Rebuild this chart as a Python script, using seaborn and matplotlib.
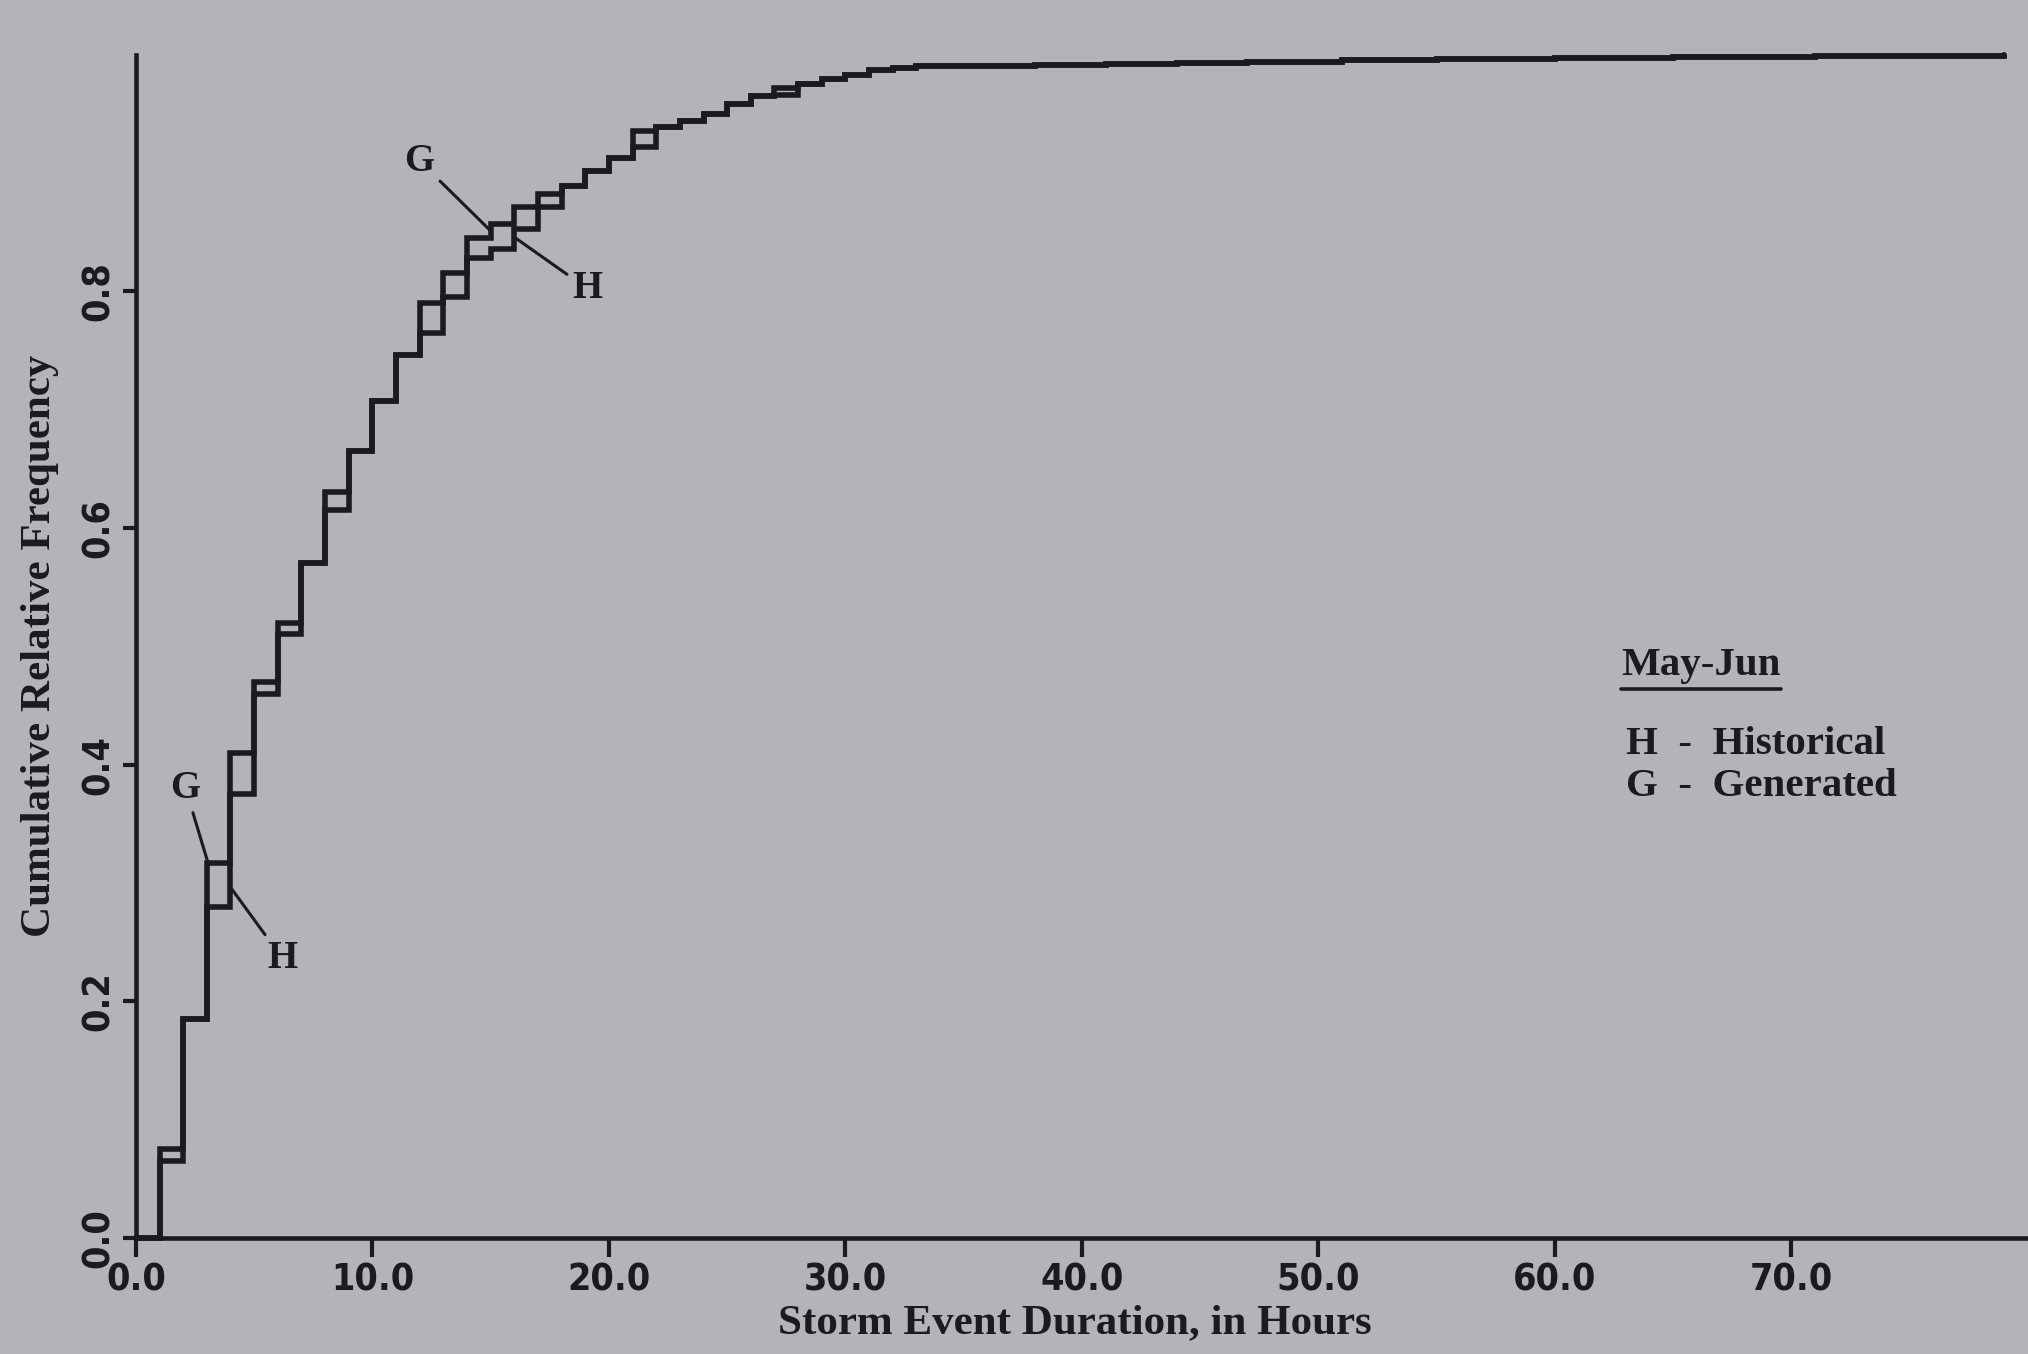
import matplotlib
matplotlib.use("Agg")
import matplotlib.pyplot as plt
from matplotlib.lines import Line2D
import seaborn as sns
import pandas as pd

# Storm event duration (hours) at which each cumulative step begins
hours = [0, 1, 2, 3, 4, 5, 6, 7, 8, 9, 10, 11, 12, 13, 14, 15, 16, 17, 18, 19,
         20, 21, 22, 23, 24, 25, 26, 27, 28, 29, 30, 31, 32, 33,
         35, 38, 41, 44, 47, 51, 55, 60, 65, 71, 79]

# Cumulative relative frequency, generated storms
generated = [0.0, 0.075, 0.185, 0.317, 0.375, 0.470, 0.520, 0.570, 0.630, 0.665,
             0.707, 0.746, 0.790, 0.815, 0.845, 0.857, 0.871, 0.882, 0.889, 0.902,
             0.913, 0.935, 0.939, 0.944, 0.950, 0.958, 0.965, 0.972, 0.975, 0.979,
             0.983, 0.987, 0.989, 0.990,
             0.990, 0.991, 0.992, 0.993, 0.994, 0.995, 0.996, 0.997, 0.998, 0.999,
             1.000]

# Cumulative relative frequency, historical storms
historical = [0.0, 0.065, 0.185, 0.280, 0.410, 0.460, 0.510, 0.570, 0.615, 0.665,
              0.707, 0.746, 0.765, 0.795, 0.828, 0.836, 0.853, 0.871, 0.889, 0.902,
              0.913, 0.922, 0.939, 0.944, 0.950, 0.958, 0.965, 0.966, 0.975, 0.979,
              0.983, 0.987, 0.989, 0.990,
              0.990, 0.991, 0.992, 0.993, 0.994, 0.995, 0.996, 0.997, 0.998, 0.999,
              1.000]

x_ticks = [0, 10, 20, 30, 40, 50, 60, 70]
x_tick_labels = ["0.0", "10.0", "20.0", "30.0", "40.0", "50.0", "60.0", "70.0"]
y_ticks = [0.0, 0.2, 0.4, 0.6, 0.8]
y_tick_labels = ["0.0", "0.2", "0.4", "0.6", "0.8"]

paper = "#b2b4ba"
ink = "#1b1b1d"

sns.set_style("ticks")
plt.rcParams["font.family"] = ["Liberation Serif", "DejaVu Serif"]

df = pd.DataFrame({"hours": hours, "G": generated, "H": historical})

fig = plt.figure(figsize=(20.28, 13.54), dpi=100)
fig.patch.set_facecolor(paper)
ax = fig.add_axes([0.067, 0.0857, 0.933, 0.874])
ax.set_facecolor(paper)

for col in ["H", "G"]:
    sns.lineplot(data=df, x="hours", y=col, ax=ax, color=ink, linewidth=4.0,
                 estimator=None, drawstyle="steps-post", clip_on=False,
                 solid_joinstyle="miter")

ax.set_xlim(0, 80)
ax.set_ylim(0, 1.0)

for side in ["top", "right"]:
    ax.spines[side].set_visible(False)
for side in ["left", "bottom"]:
    ax.spines[side].set_color(ink)
    ax.spines[side].set_linewidth(3.3)

tick_font = dict(family=["DejaVu Sans"], fontweight="bold", fontstretch="condensed")
ax.set_xticks(x_ticks)
ax.set_xticklabels(x_tick_labels, fontsize=27, color=ink, **tick_font)
ax.set_yticks(y_ticks)
ax.set_yticklabels(y_tick_labels, fontsize=27, color=ink, rotation=90, va="center",
                   **tick_font)
ax.tick_params(axis="x", direction="out", length=14, width=3, color=ink, pad=4)
ax.tick_params(axis="y", direction="out", length=9.5, width=3, color=ink, pad=4)
ax.set_xlabel("")
ax.set_ylabel("")

label_font = dict(fontsize=31, fontweight="bold", color=ink)
fig.text(1075 / 2028, 1 - 1323 / 1354, "Storm Event Duration, in Hours",
         ha="center", va="center", **label_font)
fig.text(40 / 2028, 1 - 646 / 1354, "Cumulative Relative Frequency",
         ha="center", va="center", rotation=90, **label_font)

# Curve identifiers with leader lines
lead = dict(arrowstyle="-", color=ink, lw=2.2, shrinkA=2, shrinkB=0)
ann_font = dict(fontsize=28, fontweight="bold", color=ink, ha="center", va="center")
ax.annotate("G", xy=(3.05, 0.317), xytext=(2.1, 0.380), arrowprops=lead,
            annotation_clip=False, **ann_font)
ax.annotate("H", xy=(4.05, 0.295), xytext=(6.2, 0.236), arrowprops=lead,
            annotation_clip=False, **ann_font)
ax.annotate("G", xy=(15.0, 0.851), xytext=(12.0, 0.910), arrowprops=lead,
            annotation_clip=False, **ann_font)
ax.annotate("H", xy=(16.05, 0.845), xytext=(19.1, 0.802), arrowprops=lead,
            annotation_clip=False, **ann_font)

# Key
key_font = dict(fontsize=29.5, fontweight="bold", color=ink, ha="left", va="center")
title = fig.text(1621 / 2028, 1 - 665 / 1354, "May-Jun", **key_font)
fig.text(1626 / 2028, 1 - 744 / 1354, "H  -  Historical", **key_font)
fig.text(1626 / 2028, 1 - 787 / 1354, "G  -  Generated", **key_font)

fig.canvas.draw()
bb = title.get_window_extent().transformed(fig.transFigure.inverted())
fig.add_artist(Line2D([bb.x0, bb.x1], [bb.y0 - 0.004, bb.y0 - 0.004],
                      color=ink, linewidth=2.6, transform=fig.transFigure))

fig.savefig("out.png", dpi=100, facecolor=paper)
